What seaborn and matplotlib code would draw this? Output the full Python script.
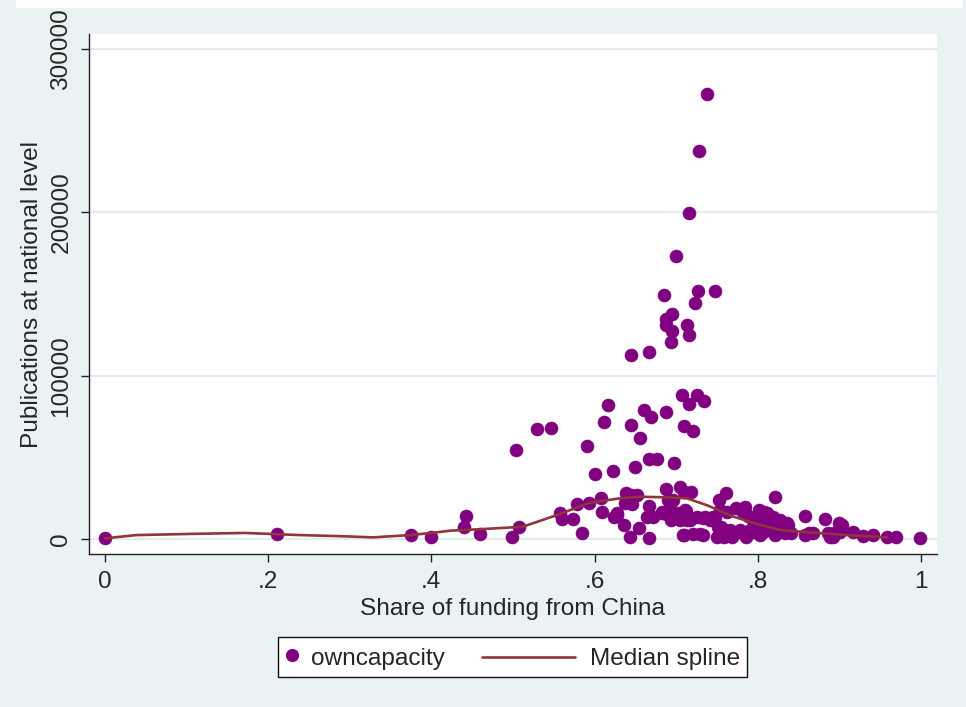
import matplotlib
matplotlib.use("Agg")
import matplotlib.pyplot as plt
from matplotlib.lines import Line2D
from matplotlib.patches import Rectangle
from matplotlib.legend_handler import HandlerBase
import pandas as pd
import seaborn as sns

# -- Data ---------------------------------------------------------------------
share_high = [0.738, 0.728, 0.716, 0.700, 0.685, 0.726, 0.747, 0.723, 0.695, 0.687,
              0.687, 0.695, 0.713, 0.716, 0.694, 0.667, 0.644, 0.707, 0.725, 0.734,
              0.716, 0.710, 0.721, 0.504, 0.529, 0.546, 0.591, 0.600, 0.623, 0.611,
              0.616, 0.645, 0.656, 0.650, 0.661, 0.669, 0.687, 0.667, 0.677, 0.697]
pubs_high = [272500, 237600, 199800, 173500, 149600, 151900, 151900, 144500, 137800, 134700,
             131000, 127600, 131000, 124700, 120400, 114500, 112900, 88200, 88200, 84500,
             82500, 69200, 66300, 54700, 67200, 68200, 57100, 39600, 41500, 71800,
             82000, 69800, 62000, 43900, 79000, 74500, 77600, 49200, 49200, 46700]

share_low = [0.000, 0.211, 0.375, 0.400, 0.440, 0.443, 0.460, 0.499, 0.507, 0.558,
             0.560, 0.573, 0.578, 0.584, 0.593, 0.608, 0.609, 0.624, 0.628, 0.636,
             0.638, 0.637, 0.645, 0.652, 0.646, 0.643, 0.654, 0.666, 0.666, 0.664,
             0.672, 0.682, 0.687, 0.690, 0.692, 0.694, 0.696, 0.704, 0.709, 0.718,
             0.705, 0.712, 0.717, 0.708, 0.721, 0.729, 0.725, 0.733, 0.741, 0.747,
             0.752, 0.761, 0.750, 0.758, 0.755, 0.762, 0.768, 0.773, 0.776, 0.782,
             0.786, 0.788, 0.794, 0.801, 0.805, 0.803, 0.811, 0.815, 0.821, 0.819,
             0.821, 0.827, 0.837, 0.841, 0.858, 0.858, 0.868, 0.882, 0.888, 0.899,
             0.903, 0.893, 0.917, 0.929, 0.941, 0.958, 0.969, 0.999, 0.627, 0.644,
             0.682, 0.692, 0.690, 0.703, 0.711, 0.713, 0.735, 0.745, 0.754, 0.709,
             0.733, 0.751, 0.766, 0.784, 0.778, 0.790, 0.807, 0.803, 0.811, 0.784,
             0.770, 0.782, 0.794, 0.806, 0.833, 0.862, 0.886, 0.892, 0.900, 0.798,
             0.805, 0.815, 0.825, 0.835]
pubs_low = [600, 3000, 2500, 1200, 7300, 14000, 3000, 1000, 7500, 15700,
            12000, 12000, 21400, 3500, 21900, 24900, 16700, 13700, 16100, 8600,
            28000, 22200, 26600, 26900, 21400, 1400, 6500, 400, 20200, 13300,
            13700, 15700, 30400, 14700, 19800, 11600, 23900, 31700, 29000, 28600,
            11600, 17300, 11600, 2400, 3100, 3100, 13700, 12700, 11600, 13700,
            23900, 28000, 1400, 1400, 7500, 16700, 1400, 18800, 4500, 16700,
            1400, 14100, 11600, 17800, 13700, 2400, 15700, 11600, 25900, 13700,
            2400, 11600, 8600, 3500, 14100, 2400, 3500, 12000, 1400, 10000,
            8600, 3900, 4500, 1800, 2400, 1400, 1400, 800, 14700, 26900,
            16700, 17800, 23900, 15700, 17800, 11600, 13700, 13700, 17800, 2400,
            2400, 7500, 5500, 19800, 5500, 5500, 16700, 5500, 5500, 16700,
            3500, 3500, 4300, 4500, 3500, 3700, 3500, 1400, 4500, 11600,
            10600, 9600, 8600, 9600]

spline_x = [0.0, 0.039, 0.113, 0.172, 0.239, 0.284, 0.329, 0.374, 0.400, 0.423,
            0.460, 0.512, 0.554, 0.594, 0.631, 0.655, 0.688, 0.713, 0.737, 0.770,
            0.799, 0.827, 0.868, 0.909, 0.958]
spline_y = [400, 2400, 3200, 3700, 2400, 1800, 1000, 2400, 3700, 5100,
            6000, 7500, 14700, 22200, 24900, 25900, 25500, 24900, 20800, 13700,
            9200, 5500, 3900, 2400, 1000]

x_ticks = [0, 0.2, 0.4, 0.6, 0.8, 1.0]
x_labels = ["0", ".2", ".4", ".6", ".8", "1"]
y_ticks = [0, 100000, 200000, 300000]
y_labels = ["0", "100000", "200000", "300000"]

pts = pd.DataFrame({"share": share_high + share_low, "pubs": pubs_high + pubs_low})
spl = pd.DataFrame({"share": spline_x, "pubs": spline_y})

# -- Style ---------------------------------------------------------------------
BG = "#EAF2F3"
PURPLE = "#800080"
SPLINE = "#90353B"

sns.set_style("white")
plt.rcParams["font.family"] = ["Liberation Sans", "DejaVu Sans"]
FS = 17.6

fig = plt.figure(figsize=(9.66, 7.07), dpi=100, facecolor=BG)
fig.patches.append(Rectangle((16 / 966, 1 - 8 / 707), 947 / 966, 8 / 707,
                             transform=fig.transFigure, facecolor="white",
                             edgecolor="none", zorder=0))
ax = fig.add_axes([89 / 966, (707 - 554) / 707, (937 - 89) / 966, (554 - 34) / 707])
ax.set_facecolor("white")

sns.scatterplot(data=pts, x="share", y="pubs", ax=ax, color=PURPLE, s=88,
                edgecolor=PURPLE, linewidth=0.4, zorder=3, legend=False)
sns.lineplot(data=spl, x="share", y="pubs", ax=ax, color=SPLINE, linewidth=1.9,
             estimator=None, zorder=4, legend=False)

ax.set_xlim(-0.0192, 1.0193)
ax.set_ylim(-9186, 309260)
ax.set_xticks(x_ticks, x_labels)
ax.set_yticks(y_ticks, y_labels)
for t in ax.get_yticklabels():
    t.set_rotation(90)
    t.set_va("center")
ax.grid(axis="y", color="#E3ECEE", linewidth=1.5, zorder=0)
ax.grid(axis="x", visible=False)
ax.set_axisbelow(True)

for side in ["top", "right"]:
    ax.spines[side].set_visible(False)
for side in ["left", "bottom"]:
    ax.spines[side].set_color("#222222")
    ax.spines[side].set_linewidth(1.0)

ax.tick_params(axis="both", which="major", direction="out", length=6, width=1,
               color="#222222", labelsize=FS, left=True, bottom=True)
ax.tick_params(axis="x", pad=6)
ax.tick_params(axis="y", pad=6)
ax.set_xlabel("Share of funding from China", fontsize=FS, labelpad=4)
ax.set_ylabel("Publications at national level", fontsize=FS, labelpad=5)


# legend: short dot key, long line key (Stata-like)
class LongLine(HandlerBase):
    def create_artists(self, legend, orig_handle, xdescent, ydescent, width,
                       height, fontsize, trans):
        y = height / 2 - ydescent
        line = Line2D([width - 3.9 * fontsize, width - 0.13 * fontsize], [y, y],
                      color=orig_handle.get_color(),
                      linewidth=orig_handle.get_linewidth())
        line.set_transform(trans)
        return [line]


h_dot = Line2D([], [], marker="o", linestyle="none", color=PURPLE, markersize=8.5)
h_line = Line2D([], [], color=SPLINE, linewidth=1.9)
leg = fig.legend([h_dot, h_line], ["owncapacity", "Median spline"],
                 handler_map={h_line: LongLine()},
                 loc="center", bbox_to_anchor=(512.5 / 966, 1 - 657 / 707),
                 ncol=2, fontsize=FS, frameon=True, fancybox=False,
                 handlelength=0.55, handleheight=1.25, handletextpad=0.5,
                 columnspacing=4.9, borderpad=0.3)
leg.get_frame().set_edgecolor("#111111")
leg.get_frame().set_linewidth(1.0)
leg.get_frame().set_facecolor("white")
leg.get_frame().set_alpha(1)

fig.savefig("out.png", dpi=100, facecolor=BG)
